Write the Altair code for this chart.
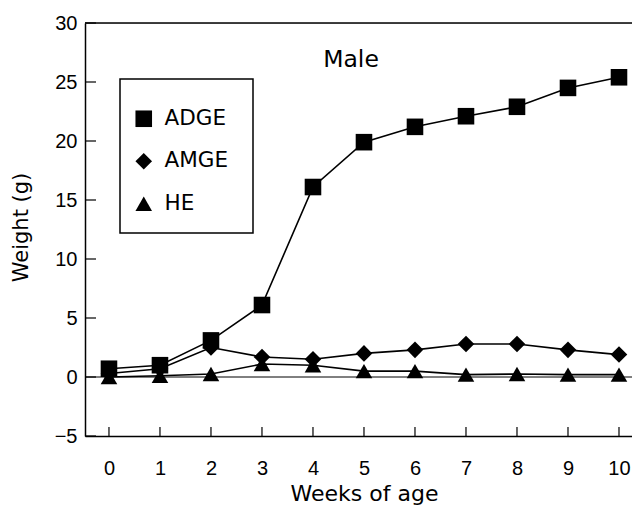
import altair as alt
import pandas as pd

# ---- data ----
weeks = [0, 1, 2, 3, 4, 5, 6, 7, 8, 9, 10]
adge = [0.7, 1.0, 3.1, 6.1, 16.1, 19.9, 21.2, 22.1, 22.9, 24.5, 25.4]
amge = [0.3, 0.7, 2.5, 1.7, 1.5, 2.0, 2.3, 2.8, 2.8, 2.3, 1.9]
he = [0.0, 0.1, 0.25, 1.1, 1.0, 0.5, 0.5, 0.2, 0.25, 0.2, 0.2]
series_names = ["ADGE", "AMGE", "HE"]
series_shapes = ["square", "diamond", "triangle-up"]
y_ticks = [-5, 0, 5, 10, 15, 20, 25, 30]
zero_line = [0]

rows = []
for name, vals in zip(series_names, [adge, amge, he]):
    for w, v in zip(weeks, vals):
        rows.append({"week": w, "weight": v, "series": name})
df = pd.DataFrame(rows)

W, H = 547, 413
xscale = alt.Scale(domain=[-0.47, 10.255], nice=False, zero=False)
yscale = alt.Scale(domain=[-5, 30], nice=False, zero=False)

TICK_FONT = "Liberation Sans"
TEXT_FONT = "DejaVu Sans"

x_axis = alt.Axis(
    values=weeks, tickSize=0, labelPadding=22, labelFont=TICK_FONT, labelFontSize=20,
    labelColor="black", labelFlush=False, labelOverlap=False, grid=False,
    domainColor="black", domainWidth=1.5,
    title="Weeks of age", titleFont=TEXT_FONT, titleFontSize=22, titleFontWeight="normal",
    titleColor="black", titleX=279, titleY=64, titleAlign="center", titleBaseline="alphabetic",
)
y_axis = alt.Axis(
    values=y_ticks, tickSize=0, labelPadding=8, labelFont=TICK_FONT, labelFontSize=20,
    labelColor="black", labelFlush=False, labelOverlap=False, grid=False,
    domainColor="black", domainWidth=1.5,
    title="Weight (g)", titleFont=TEXT_FONT, titleFontSize=21, titleFontWeight="normal",
    titleColor="black", titleAngle=270, titleX=-64, titleY=204, titleAlign="center",
    titleBaseline="middle",
)

base = alt.Chart(df).encode(
    x=alt.X("week:Q", scale=xscale, axis=x_axis),
    y=alt.Y("weight:Q", scale=yscale, axis=y_axis),
)

lines = base.mark_line(color="black", strokeWidth=1.6).encode(detail="series:N")

points = base.mark_point(filled=True, color="black", opacity=1, size=275).encode(
    shape=alt.Shape(
        "series:N",
        scale=alt.Scale(domain=series_names, range=series_shapes),
        legend=alt.Legend(
            title=None, orient="none", legendX=48, legendY=85, padding=0,
            symbolSize=275, symbolFillColor="black", symbolStrokeColor="black",
            symbolOpacity=1, labelFont=TEXT_FONT, labelFontSize=21.5, labelColor="black",
            labelOffset=10, rowPadding=18.5,
        ),
    ),
)

zero = alt.Chart(pd.DataFrame({"weight": zero_line})).mark_rule(
    color="black", strokeWidth=1
).encode(y=alt.Y("weight:Q", scale=yscale))

ytick_marks = alt.Chart(pd.DataFrame({"weight": y_ticks})).mark_rule(
    color="black", strokeWidth=1.2
).encode(y=alt.Y("weight:Q", scale=yscale), x=alt.value(0), x2=alt.value(11))

xtick_marks = alt.Chart(pd.DataFrame({"week": weeks})).mark_rule(
    color="black", strokeWidth=1.2
).encode(x=alt.X("week:Q", scale=xscale), y=alt.value(H - 9), y2=alt.value(H))

top_line = alt.Chart(pd.DataFrame({"a": [0]})).mark_rule(
    color="black", strokeWidth=1.5
).encode(y=alt.value(0), x=alt.value(0), x2=alt.value(W))

legend_box = alt.Chart(pd.DataFrame({"a": [0]})).mark_rect(
    fill="white", fillOpacity=0, stroke="black", strokeWidth=1.5
).encode(x=alt.value(35), x2=alt.value(168), y=alt.value(56), y2=alt.value(210))

title = alt.Chart(pd.DataFrame({"a": [0]})).mark_text(
    text="Male", font=TEXT_FONT, fontSize=23.5, color="black", align="center", baseline="middle"
).encode(x=alt.value(266), y=alt.value(37))

chart = alt.layer(
    lines, points, zero, ytick_marks, xtick_marks, top_line, legend_box, title
).properties(
    width=W, height=H,
    autosize=alt.AutoSizeParams(type="none"),
    padding={"left": 77, "top": 15, "right": 0, "bottom": 70},
).configure_view(stroke=None).configure(background="white")

chart.save("out.html", embed_options={"renderer": "svg", "actions": False})
